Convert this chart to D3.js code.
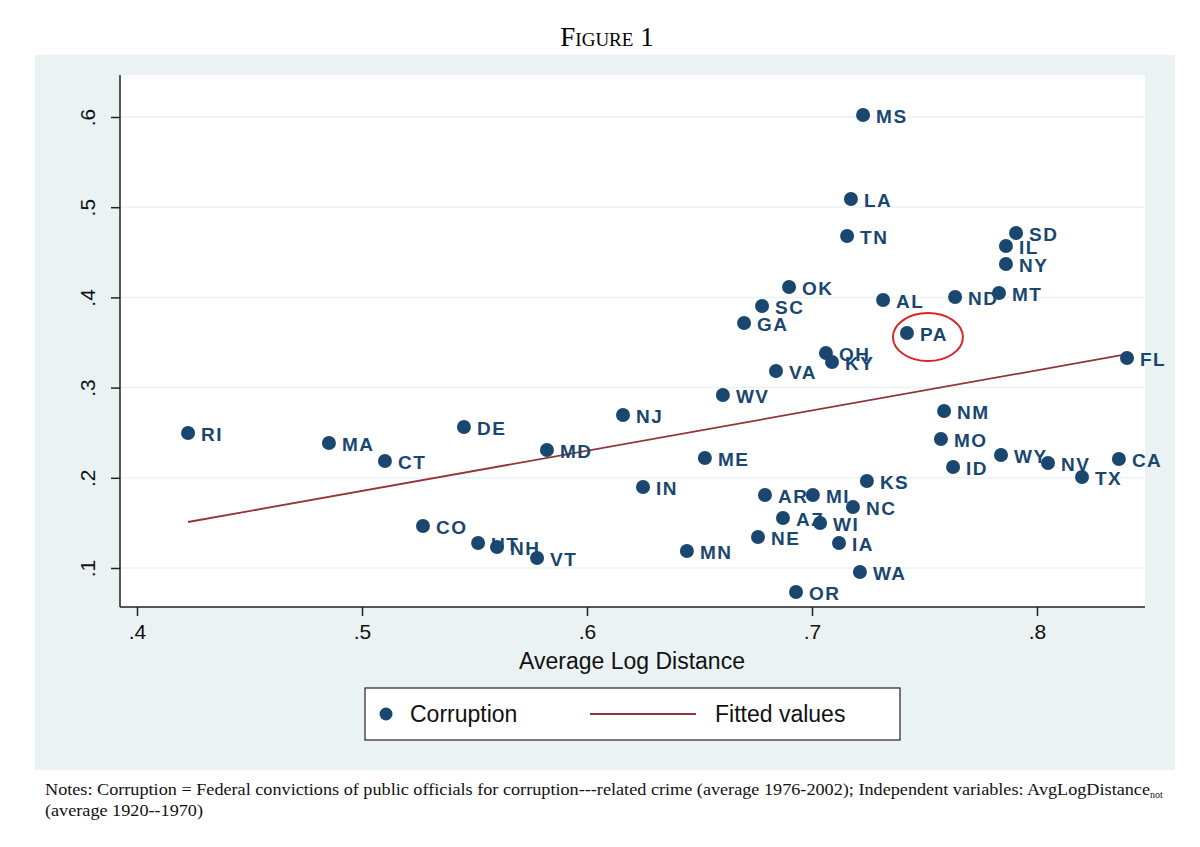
<!DOCTYPE html>
<html><head><meta charset="utf-8">
<script src="https://cdn.jsdelivr.net/npm/d3@7"></script>
<style>body{margin:0;background:#fff}</style>
</head><body>
<svg id="c" width="1200" height="847"></svg>
<script>
const states = ["RI","MA","CT","DE","MD","NJ","IN","ME","WV","VA","GA","SC","OK","OH","KY","MS","LA","TN","AL","PA","ND","MT","IL","SD","NY","FL","NM","MO","ID","WY","NV","TX","CA","KS","NC","MI","AR","AZ","WI","NE","IA","MN","WA","OR","CO","UT","NH","VT"];
const distance = [0.4227,0.4853,0.5102,0.5453,0.5822,0.616,0.6249,0.6524,0.6604,0.684,0.6698,0.6778,0.6898,0.7062,0.7089,0.7227,0.7173,0.7156,0.7316,0.7422,0.7636,0.7831,0.7862,0.7907,0.7862,0.84,0.7587,0.7573,0.7627,0.784,0.8049,0.82,0.8364,0.7244,0.7182,0.7004,0.6791,0.6871,0.7036,0.676,0.712,0.6444,0.7213,0.6929,0.5271,0.5516,0.56,0.5778];
const corruption = [0.2497,0.2386,0.2186,0.2563,0.2308,0.2696,0.1898,0.222,0.2918,0.3184,0.3716,0.3905,0.4115,0.3384,0.3284,0.6022,0.5091,0.4681,0.3971,0.3605,0.4004,0.4049,0.457,0.4714,0.437,0.3328,0.274,0.243,0.212,0.2253,0.2164,0.2009,0.2208,0.1965,0.1676,0.181,0.181,0.1554,0.1499,0.1344,0.1277,0.1188,0.0956,0.0734,0.1466,0.1277,0.1233,0.1111];
const fitX = [0.4227, 0.84];
const fitY = [0.151, 0.337];
const xTicks = [0.4,0.5,0.6,0.7,0.8];
const yTicks = [0.1,0.2,0.3,0.4,0.5,0.6];
const highlight = "PA";

const svg = d3.select("#c");
const navy = "#1a476f", maroon = "#90353b", bg = "#eaf2f3";
const L = 120, R = 1145, T = 75, B = 607;
const x = d3.scaleLinear().domain([0.4, 0.855]).range([137, 137 + 0.455*2250]);
const y = d3.scaleLinear().domain([0.1, 0.6]).range([568, 117]);
const fmt = d => d3.format(".1f")(d).replace(/^0/, "");
const sans = "Liberation Sans, Arial, sans-serif";

// title
svg.append("text").attr("x", 607).attr("y", 46).attr("text-anchor","middle")
  .attr("font-family","Liberation Serif, serif").attr("font-size",27)
  .style("font-variant","small-caps").text("Figure 1");

// graph region
svg.append("rect").attr("x",35).attr("y",55).attr("width",1140).attr("height",715).attr("fill",bg);
svg.append("rect").attr("x",L).attr("y",T).attr("width",R-L).attr("height",B-T).attr("fill","#fff");

// grid
svg.append("g").selectAll("line").data(yTicks).join("line")
  .attr("x1",L).attr("x2",R).attr("y1",d=>y(d)).attr("y2",d=>y(d))
  .attr("stroke",bg).attr("stroke-width",1.5);

// axes
const yAxis = svg.append("g").attr("transform",`translate(${L},0)`)
  .call(d3.axisLeft(y).tickValues(yTicks).tickFormat(fmt).tickSize(9).tickPadding(14));
yAxis.select(".domain").attr("d",`M0,${T}V${B}`).attr("stroke","#222").attr("stroke-width",1.5);
yAxis.selectAll(".tick line").attr("stroke","#222").attr("stroke-width",1.5);
yAxis.selectAll(".tick text").attr("font-family",sans).attr("font-size",21).attr("fill","#111")
  .attr("text-anchor","middle").attr("dy",0)
  .attr("transform","translate(-32,0) rotate(-90)").attr("x",0).attr("y",7);

const xAxis = svg.append("g").attr("transform",`translate(0,${B})`)
  .call(d3.axisBottom(x).tickValues(xTicks).tickFormat(fmt).tickSize(9).tickPadding(8));
xAxis.select(".domain").attr("d",`M${L},0H${R}`).attr("stroke","#222").attr("stroke-width",1.5);
xAxis.selectAll(".tick line").attr("stroke","#222").attr("stroke-width",1.5);
xAxis.selectAll(".tick text").attr("font-family",sans).attr("font-size",21).attr("fill","#111");

svg.append("text").attr("x",632).attr("y",669).attr("text-anchor","middle")
  .attr("font-family",sans).attr("font-size",23).attr("fill","#111")
  .text("Average Log Distance");

// fitted line
svg.append("line").attr("x1",x(fitX[0])).attr("y1",y(fitY[0])).attr("x2",x(fitX[1])).attr("y2",y(fitY[1]))
  .attr("stroke",maroon).attr("stroke-width",1.8);

// points
const data = states.map((s,i)=>({s, xv:distance[i], yv:corruption[i]}));
svg.append("g").selectAll("circle").data(data).join("circle")
  .attr("cx",d=>x(d.xv)).attr("cy",d=>y(d.yv)).attr("r",7).attr("fill",navy);
svg.append("g").selectAll("text").data(data).join("text")
  .attr("x",d=>x(d.xv)+13).attr("y",d=>y(d.yv)+8)
  .attr("font-family",sans).attr("font-weight","bold").attr("font-size",19)
  .attr("letter-spacing",1.5)
  .attr("fill",navy).text(d=>d.s);

// highlight ellipse
const h = data.find(d=>d.s===highlight);
svg.append("ellipse").attr("cx",x(h.xv)+21).attr("cy",y(h.yv)+4).attr("rx",35).attr("ry",24)
  .attr("fill","none").attr("stroke","#d9242a").attr("stroke-width",2);

// legend
const lg = svg.append("g");
lg.append("rect").attr("x",365).attr("y",688).attr("width",535).attr("height",52).attr("fill","#fff").attr("stroke","#222").attr("stroke-width",1.2);
lg.append("circle").attr("cx",386).attr("cy",714).attr("r",6.5).attr("fill",navy);
lg.append("text").attr("x",410).attr("y",722).attr("font-family",sans).attr("font-size",23).attr("fill","#111").text("Corruption");
lg.append("line").attr("x1",590).attr("x2",696).attr("y1",714).attr("y2",714).attr("stroke",maroon).attr("stroke-width",1.8);
lg.append("text").attr("x",715).attr("y",722).attr("font-family",sans).attr("font-size",23).attr("fill","#111").text("Fitted values");

// notes
const serif = "Liberation Serif, serif";
const n1 = svg.append("text").attr("x",45).attr("y",795).attr("font-family",serif).attr("font-size",16).attr("fill","#111");
n1.append("tspan").attr("textLength",1105).attr("lengthAdjust","spacingAndGlyphs")
  .text("Notes: Corruption = Federal convictions of public officials for corruption---related crime (average 1976-2002); Independent variables: AvgLogDistance");
n1.append("tspan").attr("font-size",10).attr("dy",3).text("not");
svg.append("text").attr("x",45).attr("y",816).attr("font-family",serif).attr("font-size",16).attr("fill","#111")
  .attr("textLength",158).attr("lengthAdjust","spacingAndGlyphs")
  .text("(average 1920--1970)");
</script>
</body></html>
